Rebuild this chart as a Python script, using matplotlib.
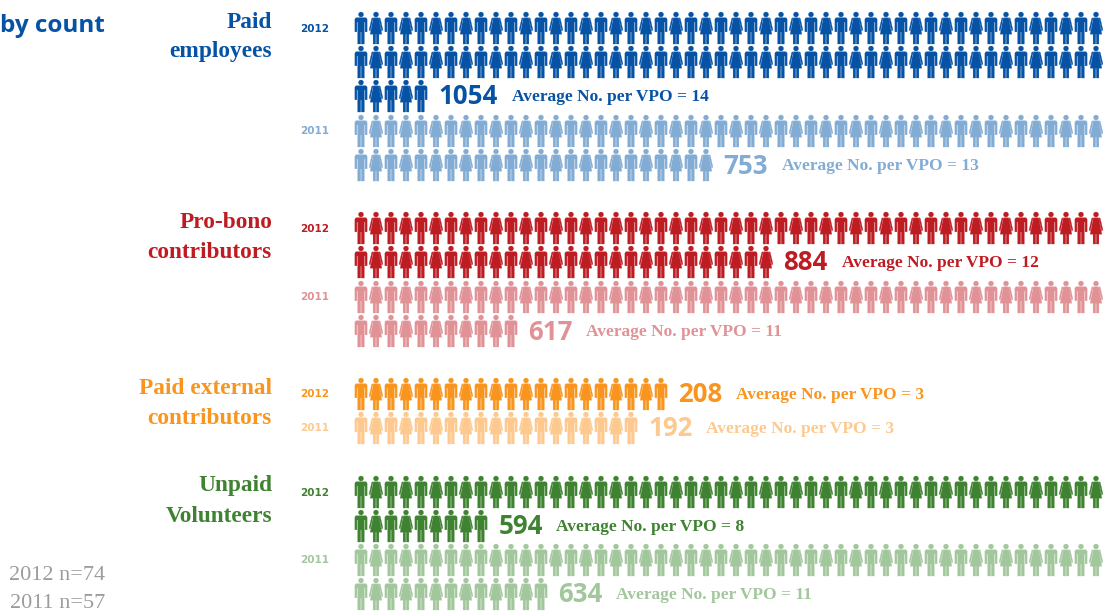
import matplotlib
matplotlib.use('Agg')
import matplotlib.pyplot as plt
from matplotlib.patches import PathPatch
from matplotlib.path import Path
from matplotlib.transforms import Affine2D

categories = [['Paid', 'employees'], ['Pro-bono', 'contributors'],
              ['Paid external', 'contributors'], ['Unpaid', 'Volunteers']]
years = ['2012', '2011']
counts_2012 = [1054, 884, 208, 594]
counts_2011 = [753, 617, 192, 634]
icons_2012 = [105, 78, 21, 59]
icons_2011 = [74, 61, 19, 63]
average_2012 = [14, 12, 3, 8]
average_2011 = [13, 11, 3, 11]
sample_labels = ['2012 n=74', '2011 n=57']

colors_2012 = ['#0652a5', '#bd1c22', '#f9951f', '#3f8231']
colors_2011 = ['#82acd4', '#e09296', '#fdc98e', '#a3c79d']

# layout, in pixels of the 1112x612 picture
ROW_PER_LINE = 50
STEP_X = 15
STEP_Y = 34
X0 = 361
group_tops = [12, 212, 378, 476]
top_2011 = [115, 281, 412, 544]
label_y = [(23, 52), (223, 252), (389, 418), (486, 516)]
year_y = [(28, 130), (228, 296), (393, 427), (492, 559)]

SERIF = 'Liberation Serif'
SANS = 'Open Sans'


def poly(pts):
    return Path(pts + [pts[0]], closed=True)


def man_icon():
    head = Path.circle((0, 2.5), 2.5)
    body = poly([(-4.2, 5.7), (4.2, 5.7), (5.4, 6.0), (6.1, 7.2), (6.1, 19.8),
                 (4.1, 19.8), (4.1, 10), (3.3, 10), (3.3, 32), (0.35, 32),
                 (0.35, 20), (-0.35, 20), (-0.35, 32), (-3.3, 32),
                 (-3.3, 10), (-4.1, 10), (-4.1, 19.8), (-6.1, 19.8),
                 (-6.1, 7.2), (-5.4, 6.0)])
    return Path.make_compound_path(head, body)


def woman_icon():
    head = Path.circle((0, 2.5), 2.5)
    dress = poly([(-2.6, 5.8), (2.6, 5.8), (5.8, 22.2), (2.9, 22.2), (2.9, 32),
                  (0.35, 32), (0.35, 22.2), (-0.35, 22.2), (-0.35, 32), (-2.9, 32),
                  (-2.9, 22.2), (-5.8, 22.2)])
    arm_r = poly([(3.0, 5.8), (4.2, 6.2), (6.9, 18.0), (5.8, 19.0), (3.3, 8.4)])
    arm_l = poly([(-3.0, 5.8), (-4.2, 6.2), (-6.9, 18.0), (-5.8, 19.0), (-3.3, 8.4)])
    return Path.make_compound_path(head, dress, arm_r, arm_l)


MAN = man_icon()
WOMAN = woman_icon()


def draw_icons(ax, n, top, color):
    for i in range(n):
        line, col = divmod(i, ROW_PER_LINE)
        icon = MAN if col % 2 == 0 else WOMAN
        tr = Affine2D().translate(X0 + col * STEP_X, top + line * STEP_Y)
        ax.add_patch(PathPatch(icon.transformed(tr), fc=color, ec=color, lw=0.2))


def draw_series(ax, n, count, avg, top, color):
    draw_icons(ax, n, top, color)
    last = (n - 1) // ROW_PER_LINE
    col = (n - 1) % ROW_PER_LINE + 1
    x_num = X0 - 6 + col * STEP_X + 8.5
    y = top + last * STEP_Y + 17
    ax.text(x_num, y, str(count), color=color, family=SANS, weight='bold',
            fontsize=18.6, ha='left', va='center')
    x_avg = x_num + 58 + 15 * (len(str(count)) - 3)
    ax.text(x_avg, y, f'Average No. per VPO = {avg}', color=color, family=SERIF,
            weight='bold', fontsize=12.5, ha='left', va='center')


fig = plt.figure(figsize=(11.12, 6.12), dpi=100)
ax = fig.add_axes([0, 0, 1, 1])
ax.set_xlim(0, 1112)
ax.set_ylim(612, 0)
ax.axis('off')

for i, lines in enumerate(categories):
    draw_series(ax, icons_2012[i], counts_2012[i], average_2012[i], group_tops[i], colors_2012[i])
    draw_series(ax, icons_2011[i], counts_2011[i], average_2011[i], top_2011[i], colors_2011[i])
    for txt, y in zip(lines, label_y[i]):
        ax.text(272, y, txt, color=colors_2012[i], family=SERIF, weight='bold',
                fontsize=16.8, ha='right', va='center')
    for yr, y, c in zip(years, year_y[i], (colors_2012[i], colors_2011[i])):
        ax.text(329, y + 1, yr, color=c, family='DejaVu Sans', weight='bold', fontsize=7.5,
                ha='right', va='center')

ax.text(0, 26, 'by count', color=colors_2012[0], family=SANS, weight='bold',
        fontsize=17.5, ha='left', va='center')
for txt, y in zip(sample_labels, (575, 603)):
    ax.text(105, y, txt, color='#9c9c9c', family=SERIF, fontsize=16, ha='right', va='center')

fig.savefig('out.png', dpi=100)
